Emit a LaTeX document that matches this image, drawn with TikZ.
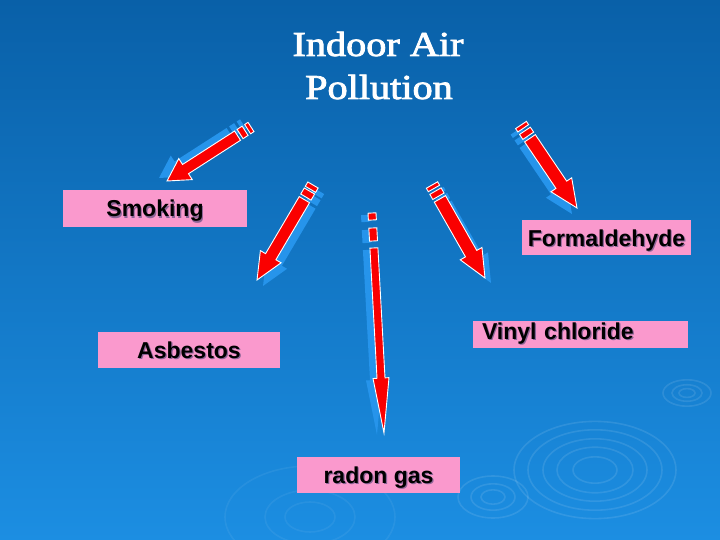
\documentclass[tikz,border=0pt]{standalone}
\usepackage{fontspec}
\usepackage{graphicx}
\setmainfont{Liberation Serif}
\newfontfamily\titlefont[FakeBold=2.2]{Liberation Serif}
\newfontfamily\arialfont{Liberation Sans}
\usetikzlibrary{calc}
\definecolor{bgtop}{RGB}{9,96,168}
\definecolor{bgbot}{RGB}{28,142,226}
\definecolor{boxpink}{RGB}{250,153,205}
\definecolor{arrred}{RGB}{250,0,0}
\definecolor{arrshadow}{RGB}{38,148,235}
\definecolor{txtshadow}{RGB}{140,100,150}

\pgfkeys{/arr/.cd, w/.store in=\aW, h/.store in=\aH, hl/.store in=\aHL,
  da/.store in=\aDa, ga/.store in=\aGa, db/.store in=\aDb, gb/.store in=\aGb,
  sx/.store in=\aSx, sy/.store in=\aSy}

\newcommand\blockarr[3][]{%
  \pgfkeys{/arr/.cd,w=5,h=12,hl=24,da=4,ga=3,db=6,gb=3,sx=0,sy=0,#1}%
  \path let \p1=($(#3)-(#2)$) in \pgfextra{\pgfmathsetmacro\tmpang{atan2(\y1,\x1)}\pgfmathsetmacro\tmplen{veclen(\x1,\y1)}\xdef\aAng{\tmpang}\xdef\aLen{\tmplen}};
  \begin{scope}[shift={($(#2)+(\aSx,\aSy)$)}, rotate=\aAng]
    \fill[arrshadow] (0,-\aW) rectangle (\aDa,\aW)
      ({\aDa+\aGa},-\aW) rectangle ({\aDa+\aGa+\aDb},\aW)
      ({\aDa+\aGa+\aDb+\aGb},-\aW) -- ({\aLen-\aHL},-\aW) -- ({\aLen-\aHL},-\aH) -- (\aLen,0)
      -- ({\aLen-\aHL},\aH) -- ({\aLen-\aHL},\aW) -- ({\aDa+\aGa+\aDb+\aGb},\aW) -- cycle;
  \end{scope}
  \begin{scope}[shift={(#2)}, rotate=\aAng]
    \filldraw[fill=arrred, draw=white, line width=0.9pt, line join=miter]
      (0,-\aW) rectangle (\aDa,\aW)
      ({\aDa+\aGa},-\aW) rectangle ({\aDa+\aGa+\aDb},\aW)
      ({\aDa+\aGa+\aDb+\aGb},-\aW) -- ({\aLen-\aHL},-\aW) -- ({\aLen-\aHL},-\aH) -- (\aLen,0)
      -- ({\aLen-\aHL},\aH) -- ({\aLen-\aHL},\aW) -- ({\aDa+\aGa+\aDb+\aGb},\aW) -- cycle;
  \end{scope}
}
\newcommand\shtext[1]{\rlap{\hspace{1.2pt}\raisebox{-1.2pt}{\color{txtshadow}#1}}#1}

\tikzset{
  pinkbox/.style={fill=boxpink, inner sep=0pt, text=black, text height=17pt, text depth=0pt,
    font=\arialfont\bfseries\fontsize{23}{27}\selectfont},
  titletext/.style={text=white, inner sep=0pt, font=\titlefont\fontsize{35}{40}\selectfont},
  ripple/.style={draw=white, draw opacity=0.10, line width=1.6pt}
}

\begin{document}
\begin{tikzpicture}[x=1pt,y=-1pt]
\useasboundingbox (0,0) rectangle (720,540);
\shade[top color=bgtop, bottom color=bgbot] (0,0) rectangle (720,540);

% ripples
\foreach \r in {22,38,52,67,81}
  \draw[ripple] (595,470) ellipse [x radius=\r, y radius={0.6*\r}];
\foreach \r in {8,15,24}
  \draw[ripple] (687,393) ellipse [x radius=\r, y radius={0.55*\r}];
\foreach \r in {12,22,35}
  \draw[ripple] (493,497) ellipse [x radius=\r, y radius={0.6*\r}];
\foreach \r in {25,45,85}
  \draw[ripple, draw opacity=0.06] (310,517) ellipse [x radius=\r, y radius={0.6*\r}];

% title
\node[titletext, anchor=base] (t1) at (378,56) {\scalebox{1.15}[1]{Indoor Air}};
\node[titletext, anchor=base] (t2) at (379,99) {\scalebox{1.15}[1]{Pollution}};

% boxes
\node[pinkbox, minimum width=184pt, minimum height=37pt] (smoking) at (155,208.5) {\shtext{Smoking}};
\node[pinkbox, minimum width=169pt, minimum height=35pt] (formal) at (606.5,237.5) {\shtext{Formaldehyde}};
\node[pinkbox, minimum width=215pt, minimum height=27pt, text height=12pt, text depth=2.4pt,
  text width=197pt, align=left] (vinyl) at (580.5,334.5) {\shtext{Vinyl chloride}};
\node[pinkbox, minimum width=182pt, minimum height=36pt] (asbestos) at (189,350) {\shtext{Asbestos}};
\node[pinkbox, minimum width=163pt, minimum height=36pt] (radon) at (378.5,475) {\shtext{radon gas}};

% arrow end points
\coordinate (a1s) at (251,127); \coordinate (a1e) at (167,181);
\coordinate (a2s) at (313,185); \coordinate (a2e) at (257,280);
\coordinate (a3s) at (372,213); \coordinate (a3e) at (384,433);
\coordinate (a4s) at (432,185); \coordinate (a4e) at (485,278);
\coordinate (a5s) at (521,125); \coordinate (a5e) at (577,208);

\blockarr[w=5.5,h=12.5,hl=22,sx=-8,sy=-3]{a1s}{a1e}
\blockarr[w=6,h=12,hl=27,da=5,ga=2,db=7,gb=3,sx=6,sy=6]{a2s}{a2e}
\blockarr[w=4,h=8,hl=55,da=7,ga=8,db=13,gb=7,sx=-7,sy=2]{a3s}{a3e}
\blockarr[w=6.5,h=12.5,hl=28,sx=6,sy=5]{a4s}{a4e}
\blockarr[w=6.5,h=12.5,hl=28,sx=-5,sy=6]{a5s}{a5e}
\end{tikzpicture}
\end{document}
